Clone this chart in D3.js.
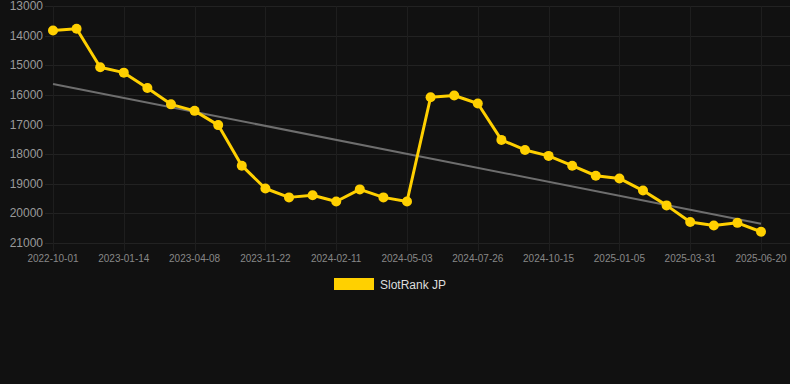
<!DOCTYPE html>
<html>
<head>
<meta charset="utf-8">
<script src="https://cdn.jsdelivr.net/npm/d3@7"></script>
<style>
  html, body { margin: 0; padding: 0; background: #111111; }
  svg { display: block; font-family: "Liberation Sans", Arial, sans-serif; }
</style>
</head>
<body>
<svg id="chart" width="790" height="384"></svg>
<script>
var dates = ["2022-10-01", "2022-11-05", "2022-12-10", "2023-01-14", "2023-02-11", "2023-03-11",
    "2023-04-08", "2023-06-14", "2023-09-18", "2023-11-22", "2023-12-19", "2024-01-15",
    "2024-02-11", "2024-03-08", "2024-04-06", "2024-05-03", "2024-05-31", "2024-06-28",
    "2024-07-26", "2024-08-22", "2024-09-18", "2024-10-15", "2024-11-11", "2024-12-09",
    "2025-01-05", "2025-02-02", "2025-03-03", "2025-03-31", "2025-04-27", "2025-05-24",
    "2025-06-20"];
var ranks = [13830, 13770, 15070, 15250, 15770, 16320, 16540, 17020, 18390, 19160, 19460,
    19390, 19600, 19190, 19460, 19600, 16080, 16020, 16290, 17520, 17860, 18060, 18390,
    18730, 18820, 19230, 19730, 20290, 20410, 20320, 20620];
var trend = [15630, 20350];
var yTicks = [13000, 14000, 15000, 16000, 17000, 18000, 19000, 20000, 21000];
var xTicks = ["2022-10-01", "2023-01-14", "2023-04-08", "2023-11-22", "2024-02-11", "2024-05-03",
    "2024-07-26", "2024-10-15", "2025-01-05", "2025-03-31", "2025-06-20"];
var seriesName = "SlotRank JP";

var svg = d3.select("#chart"),
    plotLeft = 45, plotRight = 790, plotTop = 6, plotBottom = 243;

var x = d3.scalePoint().domain(dates).range([53, 761]);
var y = d3.scaleLinear().domain([13000, 21000]).range([plotTop, plotBottom]);

var grid = svg.append("g");
grid.selectAll(".hg").data(yTicks).enter().append("line")
    .attr("x1", plotLeft).attr("x2", plotRight)
    .attr("y1", function(d) { return Math.round(y(d)) + 0.5; })
    .attr("y2", function(d) { return Math.round(y(d)) + 0.5; })
    .attr("stroke", "#222222").attr("stroke-width", 1);
grid.selectAll(".vg").data(xTicks).enter().append("line")
    .attr("x1", function(d) { return Math.round(x(d)) + 0.5; })
    .attr("x2", function(d) { return Math.round(x(d)) + 0.5; })
    .attr("y1", plotTop).attr("y2", plotBottom + 8)
    .attr("stroke", "#1e1e1e").attr("stroke-width", 1);

// y labels
svg.append("g").selectAll("text").data(yTicks).enter().append("text")
    .attr("x", 43)
    .attr("y", function(d) { return y(d) + 4; })
    .attr("text-anchor", "end")
    .attr("fill", "#9a9a9a")
    .style("font-size", "12px")
    .text(function(d) { return d; });

// x labels
svg.append("g").selectAll("text").data(xTicks).enter().append("text")
    .attr("x", function(d) { return x(d); })
    .attr("y", 262)
    .attr("text-anchor", "middle")
    .attr("fill", "#888888")
    .style("font-size", "10px")
    .text(function(d) { return d; });

// trend line
svg.append("line")
    .attr("x1", x(dates[0])).attr("y1", y(trend[0]))
    .attr("x2", x(dates[dates.length - 1])).attr("y2", y(trend[1]))
    .attr("stroke", "#6e6e6e").attr("stroke-width", 2);

var data = dates.map(function(d, i) { return {date: d, value: ranks[i]}; });

var line = d3.line()
    .x(function(d) { return x(d.date); })
    .y(function(d) { return y(d.value); });

svg.append("path")
    .datum(data)
    .attr("d", line)
    .attr("fill", "none")
    .attr("stroke", "#ffd000")
    .attr("stroke-width", 3)
    .attr("stroke-linejoin", "round");

svg.append("g").selectAll("circle").data(data).enter().append("circle")
    .attr("cx", function(d) { return x(d.date); })
    .attr("cy", function(d) { return y(d.value); })
    .attr("r", 5)
    .attr("fill", "#ffd000");

// legend
var lg = svg.append("g");
lg.append("rect").attr("x", 334).attr("y", 278).attr("width", 40).attr("height", 12)
    .attr("fill", "#ffd000");
lg.append("text").attr("x", 380).attr("y", 288.5)
    .attr("fill", "#dddddd")
    .style("font-size", "12px")
    .text(seriesName);
</script>
</body>
</html>
